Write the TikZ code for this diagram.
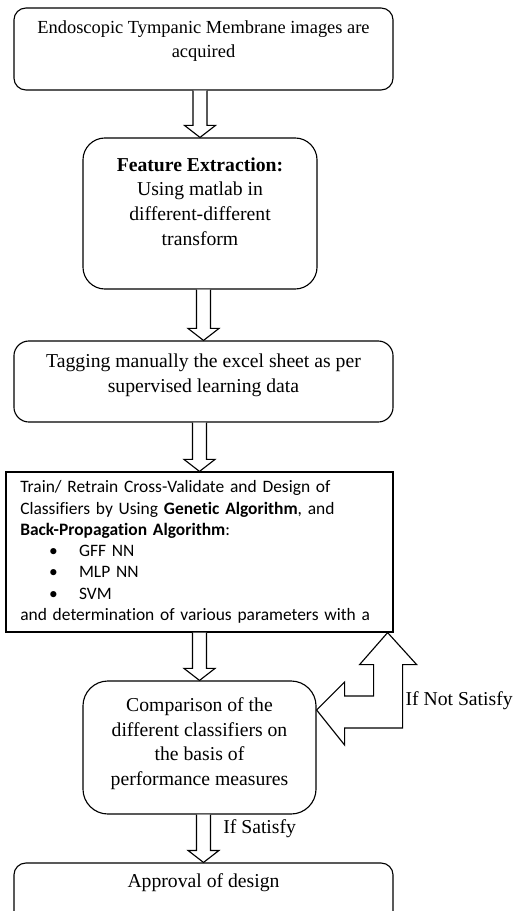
\documentclass[tikz,border=0pt]{standalone}
\usepackage{fontspec}
\setmainfont{Liberation Serif}
\newfontfamily\calibri[Ligatures=NoCommon]{Carlito}
\usetikzlibrary{calc}

\newcommand{\fatdown}[2]{%
\draw [fat] ($(#2.north |- #1.south)+(-7,0)$) -- ($(#2.north)+(-7,-12)$) -- ($(#2.north)+(-15.5,-12)$) -- (#2.north) -- ($(#2.north)+(15.5,-12)$) -- ($(#2.north)+(7,-12)$) -- ($(#2.north |- #1.south)+(7,0)$);}

\begin{document}
\begin{tikzpicture}[x=0.025cm, y=-0.025cm, every node/.style={inner sep=0pt}]
\tikzstyle{rbox}=[draw=black, line width=0.8pt]
\tikzstyle{txt}=[align=center, font=\fontsize{14}{17.5}\selectfont]
\tikzstyle{fat}=[draw=black, line width=0.8pt, fill=white]
\clip (0,0) rectangle (514,911);
% boxes
\node [rbox, rounded corners=0.3cm, minimum width=9.475cm, minimum height=2.05cm] (acq) at (203.5,49) {};
\node [txt, font=\fontsize{13.1}{17}\selectfont] (acqtxt) at (203.5,41) {Endoscopic Tympanic Membrane images are\\acquired};
\node [rbox, rounded corners=0.55cm, minimum width=5.85cm, minimum height=3.775cm] (feat) at (200,213.5) {};
\node [txt] (feattxt) at (200,201.5) {\textbf{Feature Extraction:}\\Using matlab in\\different-different\\transform};
\node [rbox, rounded corners=0.375cm, minimum width=9.475cm, minimum height=2.025cm] (tag) at (203.5,381.5) {};
\node [txt] (tagtxt) at (203.5,375.5) {Tagging manually the excel sheet as per\\supervised learning data};
\node [rbox, minimum width=9.675cm, minimum height=4cm] (train) at (199.5,552) {};
\node [align=left, text width=9.6cm, anchor=west, font=\calibri\fontsize{12.4}{15.1}\selectfont] (traintxt) at (20,552) {Train/ Retrain Cross-Validate and Design of\\
Classifiers by Using \textbf{Genetic Algorithm}, and\\
\textbf{Back-Propagation Algorithm}:\\
\hspace*{0.72cm}\makebox[0.75cm][l]{\textbullet}GFF NN\\
\hspace*{0.72cm}\makebox[0.75cm][l]{\textbullet}MLP NN\\
\hspace*{0.72cm}\makebox[0.75cm][l]{\textbullet}SVM\\
and determination of various parameters with a};
\node [rbox, rounded corners=0.625cm, minimum width=5.825cm, minimum height=3.325cm] (comp) at (199.5,747.5) {};
\node [txt] (comptxt) at (199.5,743.5) {Comparison of the\\different classifiers on\\the basis of\\performance measures};
\node [rbox, rounded corners=0.3cm, minimum width=9.475cm, minimum height=1.8cm] (appr) at (203.5,899) {};
\node [txt] (apprtxt) at (203.5,883) {Approval of design};
% arrows
\fatdown{acq}{feat}
\fatdown{feat}{tag}
\fatdown{tag}{train}
\fatdown{train}{comp}
\fatdown{comp}{appr}
\node [txt, anchor=west] (yes) at (223,829) {If Satisfy};
% feedback
\coordinate (lt) at ($(comp.east)+(0,-37.5)$);
\coordinate (up) at ($(train.south east)+(-6,0)$);
\draw [fat] (lt) -- ($(lt)+(28,-28)$) -- ($(lt)+(28,-14)$) -- ($(lt)+(57,-14)$) -- ($(up)+(-14,32)$) -- ($(up)+(-28,32)$) -- (up) -- ($(up)+(29,32)$) -- ($(up)+(15,32)$) -- ($(lt)+(86,18)$) -- ($(lt)+(28,18)$) -- ($(lt)+(28,35)$) -- cycle;
\node [txt, anchor=east] (no) at (513,701) {If Not Satisfy};
\end{tikzpicture}
\end{document}
